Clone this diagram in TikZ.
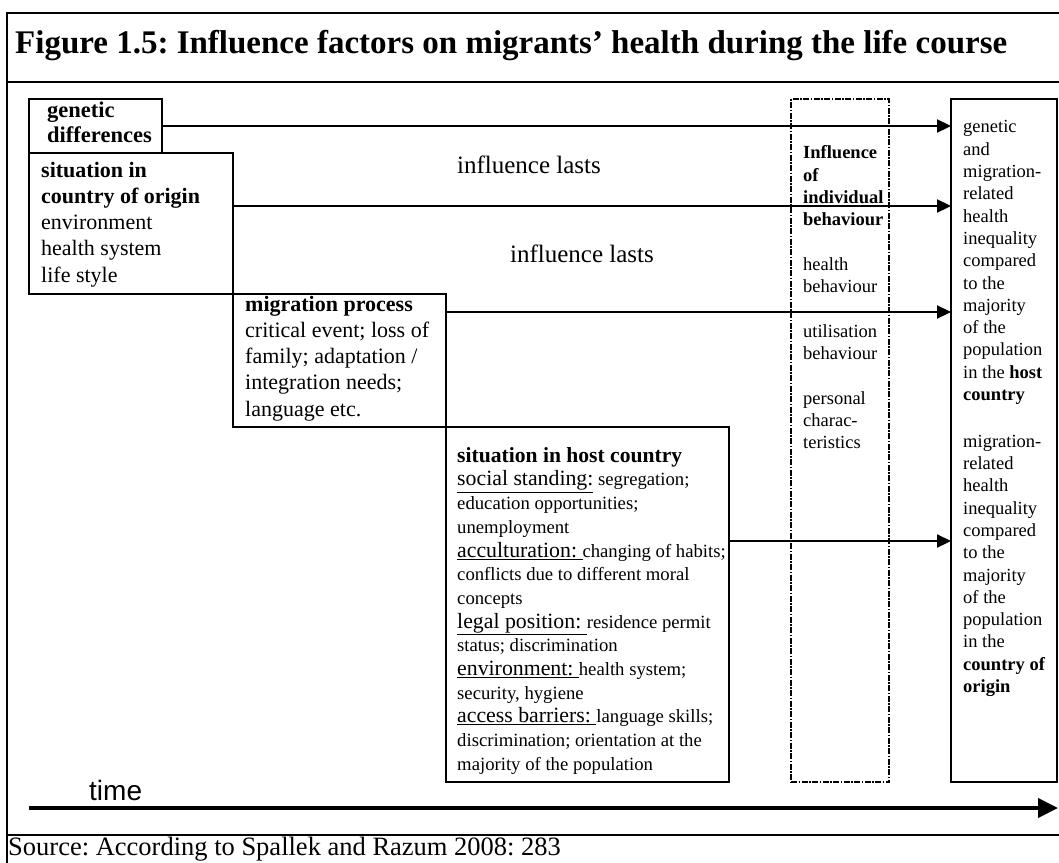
\documentclass[tikz,border=0pt]{standalone}
\usepackage{fontspec}
\setmainfont{Liberation Serif}
\newfontfamily\timefont{Liberation Sans}
\usetikzlibrary{arrows.meta}
\frenchspacing

\newcommand\lab[1]{{\fontsize{21.8}{23.7}\selectfont\underline{#1}}}

\begin{document}
\begin{tikzpicture}[x=1pt,y=-1pt,>={Triangle[length=14pt,width=13pt]},
    box/.style={draw,line width=1.3pt,inner sep=0pt,outer sep=0pt,anchor=north west},
    dbox/.style={box,line width=1.6pt,dash pattern=on 6pt off 1.5pt on 1.5pt off 1.5pt},
    txt/.style={inner sep=0pt,anchor=north west,align=left},
    flow/.style={->,line width=2.2pt}]
    \def\W{1059}
    \def\H{862}
    \useasboundingbox (0,0) rectangle (\W,\H);
    \clip (0,0) rectangle (\W,\H);

    % frame and title
    \draw[line width=2pt] (1070,13) -- (7,13) -- (7,870);
    \draw[line width=2pt] (7,82) -- (1070,82) (7,835) -- (1070,835);
    \node[txt,anchor=base west,font=\fontsize{33}{38}\selectfont\bfseries] (title) at (15,53) {Figure 1.5: Influence factors on migrants’ health during the life course};

    % boxes
    \node[box,minimum width=133pt,minimum height=54pt] (gen) at (29,99) {};
    \node[box,minimum width=204pt,minimum height=141pt] (orig) at (29,153) {};
    \node[box,minimum width=213pt,minimum height=133pt] (migr) at (233,294) {};
    \node[box,minimum width=283pt,minimum height=355pt] (host) at (446,427) {};
    \node[dbox,minimum width=98pt,minimum height=683pt] (behav) at (791,99) {};
    \node[box,minimum width=106pt,minimum height=683pt] (res) at (951,99) {};

    \node[txt,font=\fontsize{22.5}{25}\selectfont\bfseries] (gentxt) at (47,99.5) {\strut genetic\\differences};
    \node[txt,font=\fontsize{22}{26.2}\selectfont] (origtxt) at (41,158.7) {\strut\textbf{situation in}\\\textbf{country of origin}\\environment\\health system\\life style};
    \node[txt,font=\fontsize{22}{26.2}\selectfont] (migrtxt) at (245,292.7) {\strut\textbf{migration process}\\critical event; loss of\\family; adaptation /\\integration needs;\\language etc.};
    \node[txt,font=\fontsize{18.7}{23.7}\selectfont] (hosttxt) at (457,445.4) {\strut{\fontsize{21.6}{23.7}\selectfont\bfseries situation in host country}\\
        \lab{social standing:} segregation;\\education opportunities;\\unemployment\\
        \lab{acculturation:~}changing of habits;\\conflicts due to different moral\\concepts\\
        \lab{legal position:~}residence permit\\status; discrimination\\
        \lab{environment:~}health system;\\security, hygiene\\
        \lab{access barriers:~}language skills;\\discrimination; orientation at the\\majority of the population};
    \node[txt,font=\fontsize{18.5}{22.3}\selectfont] (behavtxt) at (803,142.9) {\strut\textbf{Influence}\\\textbf{of}\\\textbf{individual}\\\textbf{behaviour}\\[22.3pt]
        health\\behaviour\\[22.3pt]utilisation\\behaviour\\[22.3pt]personal\\charac-\\teristics};
    \node[txt,font=\fontsize{18.5}{22.3}\selectfont] (restxt) at (963,117.1) {\strut genetic\\and\\migration-\\related\\health\\inequality\\compared\\to the\\majority\\of the\\population\\in the \textbf{host}\\\textbf{country}\\[24.4pt]
        migration-\\related\\health\\inequality\\compared\\to the\\majority\\of the\\population\\in the\\\textbf{country of}\\\textbf{origin}};

    \node[font=\fontsize{25}{30}\selectfont] (last1) at (529,165) {influence lasts};
    \node[font=\fontsize{25}{30}\selectfont] (last2) at (582,254) {influence lasts};

    % arrows towards the outcome box
    \coordinate (o1) at ([yshift=-53pt]orig.north east);
    \coordinate (m1) at ([yshift=-18pt]migr.north east);
    \coordinate (h1) at ([yshift=-114pt]host.north east);
    \draw[flow] (gen.east) -- (gen.east -| res.west);
    \draw[flow] (o1) -- (o1 -| res.west);
    \draw[flow] (m1) -- (m1 -| res.west);
    \draw[flow] (h1) -- (h1 -| res.west);

    % time axis
    \coordinate (t0) at (29,808);
    \coordinate (t1) at (1058,808);
    \draw[line width=4pt,-{Triangle[length=20pt,width=19pt]}] (t0) -- (t1);
    \node[txt,anchor=base west,font=\timefont\fontsize{28}{32}\selectfont] (time) at (89,800) {time};
    \node[txt,anchor=base west,font=\fontsize{26.5}{30}\selectfont] (src) at (8,855) {Source: According to Spallek and Razum 2008: 283};
\end{tikzpicture}
\end{document}
